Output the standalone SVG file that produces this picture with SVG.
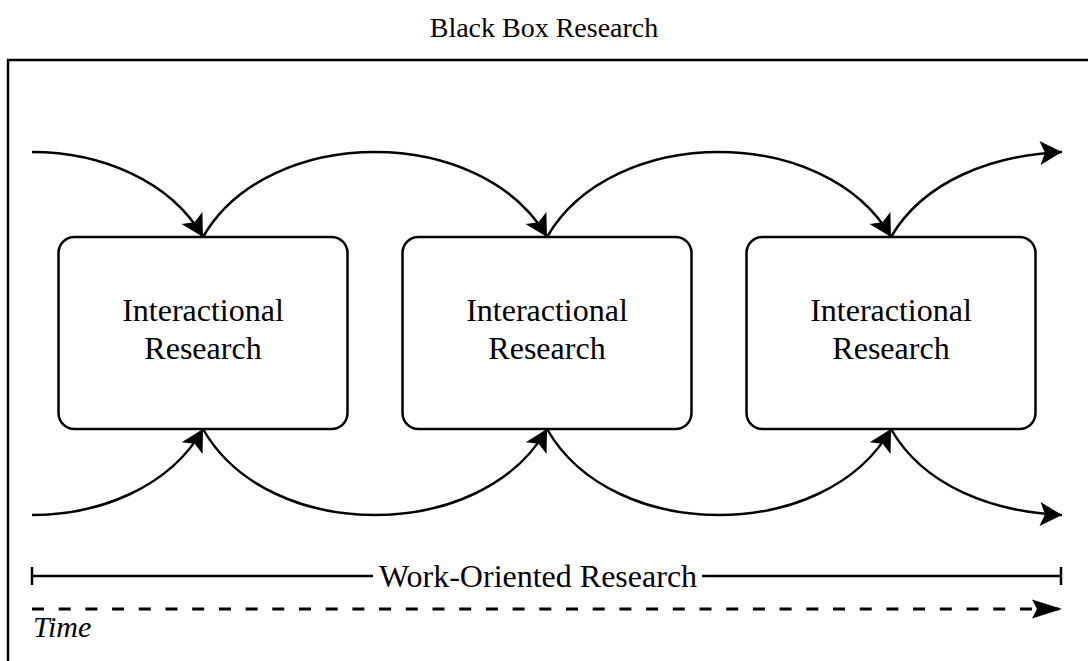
<svg xmlns="http://www.w3.org/2000/svg" width="1088" height="661" viewBox="0 0 1088 661">
  <style>
    .frame { fill: none; stroke: #000; stroke-width: 2.5; }
    .box { fill: #fff; stroke: #000; stroke-width: 2.5; }
    .label { font-family: "Liberation Serif", "Times New Roman", serif; fill: #000; text-anchor: middle; }
    .edge { fill: none; stroke: #000; stroke-width: 2.5; }
    .dash { fill: none; stroke: #000; stroke-width: 3; stroke-dasharray: 12 14.7; }
  </style>
  <defs>
    <marker id="head" markerUnits="userSpaceOnUse" viewBox="-23 -13 24 26" refX="0" refY="0" markerWidth="24" markerHeight="26" orient="auto">
      <path d="M0,0 L-22,-12 L-17,0 L-22,12 Z" fill="#000"/>
    </marker>
    <marker id="timeHead" markerUnits="userSpaceOnUse" viewBox="-31 -10 32 20" refX="0" refY="0" markerWidth="32" markerHeight="20" orient="auto">
      <path d="M0,0 L-30,-9.5 L-25,0 L-30,9.5 Z" fill="#000"/>
    </marker>
  </defs>

  <rect width="1088" height="661" fill="#fff"/>

  <!-- title -->
  <text class="label" x="544" y="37" font-size="28">Black Box Research</text>

  <!-- enclosing frame (runs off the right and bottom edges) -->
  <rect class="frame" x="8" y="60" width="1100" height="700"/>

  <!-- connectors -->
  <g id="connectors">
    <!-- upper chain -->
    <path class="edge" d="M32,152 C100,152 170,180 203,237" marker-end="url(#head)"/>
    <path class="edge" d="M203,237 C236,180 306,152 375,152 C444,152 514,180 547,237" marker-end="url(#head)"/>
    <path class="edge" d="M547,237 C580,180 650,152 719,152 C788,152 858,180 891,237" marker-end="url(#head)"/>
    <path class="edge" d="M891,237 C924,180 994,155 1062,152" marker-end="url(#head)"/>
    <!-- lower chain -->
    <path class="edge" d="M32,515 C100,515 170,487 203,429" marker-end="url(#head)"/>
    <path class="edge" d="M203,429 C236,487 306,515 375,515 C444,515 514,487 547,429" marker-end="url(#head)"/>
    <path class="edge" d="M547,429 C580,487 650,515 719,515 C788,515 858,487 891,429" marker-end="url(#head)"/>
    <path class="edge" d="M891,429 C924,487 994,512 1062,515" marker-end="url(#head)"/>
  </g>

  <!-- nodes -->
  <g id="node1">
    <rect class="box" x="58.5" y="237" width="289" height="192" rx="16"/>
    <text class="label" x="203" y="321" font-size="32">Interactional</text>
    <text class="label" x="203" y="359" font-size="32">Research</text>
  </g>
  <g id="node2">
    <rect class="box" x="402.5" y="237" width="289" height="192" rx="16"/>
    <text class="label" x="547" y="321" font-size="32">Interactional</text>
    <text class="label" x="547" y="359" font-size="32">Research</text>
  </g>
  <g id="node3">
    <rect class="box" x="746.5" y="237" width="289" height="192" rx="16"/>
    <text class="label" x="891" y="321" font-size="32">Interactional</text>
    <text class="label" x="891" y="359" font-size="32">Research</text>
  </g>

  <!-- work-oriented span -->
  <g id="span">
    <path class="edge" d="M32,567 V585 M32,576 H373 M702,576 H1061 M1061,567 V585"/>
    <text class="label" x="538" y="587" font-size="32">Work-Oriented Research</text>
  </g>

  <!-- time axis -->
  <g id="time">
    <path class="dash" d="M32,609 H1062" marker-end="url(#timeHead)"/>
    <text x="33" y="637" font-size="30" font-style="italic" font-family="Liberation Serif, Times New Roman, serif">Time</text>
  </g>
</svg>
